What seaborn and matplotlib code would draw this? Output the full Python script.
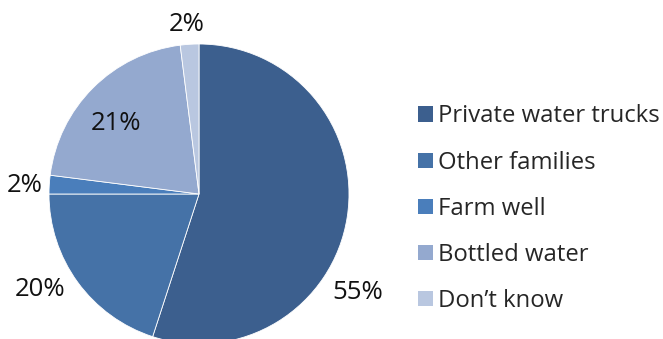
import matplotlib
matplotlib.use("Agg")
import matplotlib.pyplot as plt
from matplotlib.patches import Patch
import seaborn as sns

sns.set_theme(style="white")
plt.rcParams["font.family"] = ["Open Sans", "DejaVu Sans"]

categories = ["Private water trucks", "Other families", "Farm well", "Bottled water", "Don\u2019t know"]
shares = [55, 20, 2, 21, 2]
colors = ["#3C5F8E", "#4572A7", "#4A7EBB", "#94A9CF", "#B9C7E0"]
# label anchor points in pie units (radius = 1)
label_pos = [(1.055, -0.655), (-1.06, -0.64), (-1.16, 0.06), (-0.55, 0.47), (-0.08, 1.13)]

fig = plt.figure(figsize=(6.63, 3.39), dpi=100)
W, H = 663, 339
cx, cy, r = 199, 145, 150
ax = fig.add_axes([(cx - r) / W, (cy - r) / H, 2 * r / W, 2 * r / H])
wedges, _ = ax.pie(shares, colors=colors, startangle=90, counterclock=False,
                   radius=1, wedgeprops=dict(edgecolor="white", linewidth=0.6))
ax.set_xlim(-1, 1)
ax.set_ylim(-1, 1)
ax.set_aspect("equal")
ax.axis("off")
for v, (x, y) in zip(shares, label_pos):
    ax.text(x, y, f"{v}%", ha="center", va="center", fontsize=18.5, color="#111111",
            clip_on=False)

handles = [Patch(facecolor=c, edgecolor="none") for c in colors]
fig.legend(handles, categories, loc="center left", bbox_to_anchor=(418 / W, 0.384),
           frameon=False, fontsize=17.2, handlelength=0.63, handleheight=0.6,
           handletextpad=0.2, labelspacing=0.93, borderpad=0, borderaxespad=0)

fig.savefig("out.png", dpi=100)
